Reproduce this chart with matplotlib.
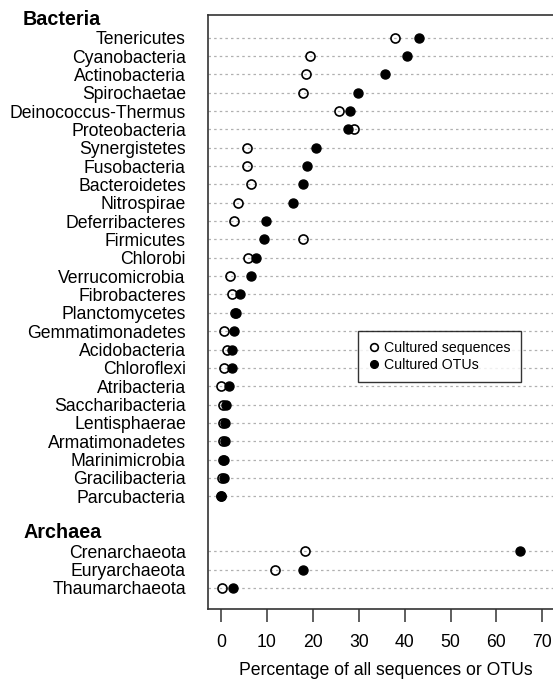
import numpy as np
import matplotlib
matplotlib.use("Agg")
import matplotlib.pyplot as plt
import matplotlib.transforms as mtransforms

plt.rcParams['font.family'] = ['Liberation Sans', 'DejaVu Sans']

# Bacteria phyla: percentage of cultured sequences / cultured OTUs
bacteria = ["Tenericutes", "Cyanobacteria", "Actinobacteria", "Spirochaetae",
            "Deinococcus-Thermus", "Proteobacteria", "Synergistetes", "Fusobacteria",
            "Bacteroidetes", "Nitrospirae", "Deferribacteres", "Firmicutes", "Chlorobi",
            "Verrucomicrobia", "Fibrobacteres", "Planctomycetes", "Gemmatimonadetes",
            "Acidobacteria", "Chloroflexi", "Atribacteria", "Saccharibacteria",
            "Lentisphaerae", "Armatimonadetes", "Marinimicrobia", "Gracilibacteria",
            "Parcubacteria"]
bact_seqs = [38.0, 19.4, 18.6, 17.8, 25.7, 29.0, 5.6, 5.6, 6.5, 3.7, 2.8, 17.8, 5.8,
             2.0, 2.3, 3.0, 0.65, 1.2, 0.65, 0.05, 0.4, 0.4, 0.5, 0.5, 0.2, 0.05]
bact_otus = [43.2, 40.6, 35.8, 29.9, 28.2, 27.6, 20.6, 18.7, 17.9, 15.7, 9.7, 9.3, 7.7,
             6.5, 4.1, 3.3, 2.9, 2.5, 2.3, 1.8, 1.1, 0.9, 0.9, 0.65, 0.65, 0.1]

archaea = ["Crenarchaeota", "Euryarchaeota", "Thaumarchaeota"]
arch_seqs = [18.2, 11.8, 0.15]
arch_otus = [65.2, 17.8, 2.7]

xticks = [0, 10, 20, 30, 40, 50, 60, 70]

# row positions (top to bottom), with a gap row for the Archaea header
ypos_b = np.arange(len(bacteria))
ypos_a = len(bacteria) + 2 + np.arange(len(archaea))
names = bacteria + archaea
ypos = np.concatenate([ypos_b, ypos_a])
seqs = np.array(bact_seqs + arch_seqs)
otus = np.array(bact_otus + arch_otus)

fig = plt.figure(figsize=(5.53, 6.84), dpi=100)
ax = fig.add_axes([0.3756, 0.1096, 0.645, 0.8685])

for y in ypos:
    ax.axhline(y, color='#b0b0b0', lw=0.9, ls=(0, (2, 2.5)), zorder=1)

ax.plot(otus, ypos, 'o', color='black', ms=6.5, zorder=3, label='Cultured OTUs')
ax.plot(seqs, ypos, 'o', mfc='none', mec='black', mew=1.2, ms=6.5, zorder=4,
        label='Cultured sequences')

ax.set_xlim(-2.9, 74.8)
ax.set_ylim(31.15, -1.24)
ax.set_xticks(xticks)
ax.set_yticks(ypos)
ax.set_yticklabels(names, fontsize=12.7)
ax.tick_params(axis='y', length=0, pad=15.8)
ax.tick_params(axis='x', length=9, width=1.1, color='#333333', pad=9, labelsize=12.7)
ax.set_xlabel('Percentage of all sequences or OTUs', fontsize=12.7, labelpad=8)

for s in ax.spines.values():
    s.set_linewidth(1.2)
    s.set_color('#333333')

# group headers
trans = mtransforms.blended_transform_factory(fig.transFigure, ax.transData)
ax.text(23 / 553, -1, 'Bacteria', transform=trans, fontsize=14.2, fontweight='bold',
        ha='left', va='center', clip_on=False)
ax.text(23 / 553, len(bacteria) + 1, 'Archaea', transform=trans, fontsize=14.2,
        fontweight='bold', ha='left', va='center', clip_on=False)

h, l = ax.get_legend_handles_labels()
leg = ax.legend(h[::-1], l[::-1], loc='upper left', bbox_to_anchor=(358 / 553, 1 - 331 / 684),
                bbox_transform=fig.transFigure, fontsize=10.2, frameon=True, fancybox=False,
                edgecolor='black', handletextpad=0.35, handlelength=0.8, borderpad=0.7,
                labelspacing=0.22, markerscale=0.85, borderaxespad=0)
leg.get_frame().set_linewidth(1.0)

plt.savefig('out.png', dpi=100)
